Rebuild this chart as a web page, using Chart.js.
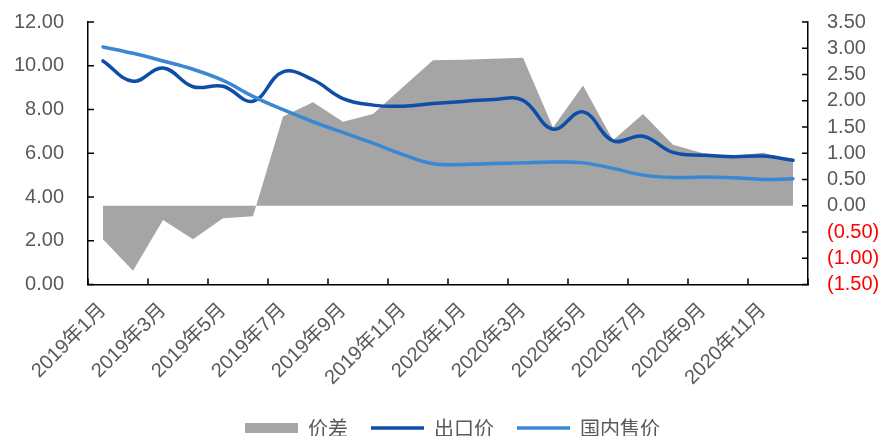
<!DOCTYPE html>
<html>
<head>
<meta charset="utf-8">
<script src="https://cdn.jsdelivr.net/npm/chart.js@4.4.1/dist/chart.umd.min.js"></script>
<style>
html,body{margin:0;padding:0;background:#fff;}
#wrap{width:885px;height:436px;position:relative;}
</style>
</head>
<body>
<div id="wrap"><canvas id="c" width="885" height="436"></canvas></div>
<script>
// ---- data ----
const categories = ['2019年1月','2019年2月','2019年3月','2019年4月','2019年5月','2019年6月',
  '2019年7月','2019年8月','2019年9月','2019年10月','2019年11月','2019年12月',
  '2020年1月','2020年2月','2020年3月','2020年4月','2020年5月','2020年6月',
  '2020年7月','2020年8月','2020年9月','2020年10月','2020年11月','2020年12月'];
const spread = [-0.64, -1.24, -0.27, -0.64, -0.24, -0.20, 1.70, 1.97, 1.60, 1.75, 2.26, 2.77,
  2.78, 2.80, 2.82, 1.49, 2.29, 1.25, 1.75, 1.16, 1.00, 0.95, 1.01, 0.86];
const exportPrice = [10.22, 9.29, 9.90, 9.04, 9.06, 8.38, 9.72, 9.36, 8.50, 8.20, 8.15, 8.27,
  8.37, 8.46, 8.42, 7.10, 7.89, 6.57, 6.78, 6.04, 5.91, 5.84, 5.87, 5.68];
const domesticPrice = [10.86, 10.57, 10.22, 9.84, 9.33, 8.60, 7.99, 7.44, 6.95, 6.46, 5.94, 5.52,
  5.49, 5.53, 5.56, 5.60, 5.56, 5.31, 5.00, 4.89, 4.91, 4.88, 4.80, 4.83];
const seriesNames = ['价差', '出口价', '国内售价'];
const leftAxisRange = [0, 12, 2];
const rightAxisRange = [-1.5, 3.5, 0.5];

const GRAY_TXT = '#595959';
const LATIN = '"Liberation Sans", Arial, "Noto Sans CJK SC", sans-serif';

const inwardTicks = {
  id: 'inwardTicks',
  afterDraw(chart) {
    const ctx = chart.ctx, a = chart.chartArea;
    const L = 6;
    ctx.save();
    ctx.strokeStyle = '#000';
    ctx.lineWidth = 1.5;
    ctx.beginPath();
    const y1 = chart.scales.y;
    y1.ticks.forEach(t => {
      const p = y1.getPixelForValue(t.value);
      ctx.moveTo(a.left, p); ctx.lineTo(a.left + L, p);
    });
    const y2 = chart.scales.y2;
    y2.ticks.forEach(t => {
      const p = y2.getPixelForValue(t.value);
      ctx.moveTo(a.right, p); ctx.lineTo(a.right - L, p);
    });
    const xs = chart.scales.x;
    for (let i = 0; i <= categories.length; i += 2) {
      const p = xs.getPixelForValue(i - 0.5);
      ctx.moveTo(p, a.bottom); ctx.lineTo(p, a.bottom - L);
    }
    ctx.stroke();
    ctx.restore();
  }
};

const legendShift = {
  id: 'legendShift',
  afterLayout(chart) {
    const lg = chart.legend;
    if (lg) { lg.left += 10; lg.right += 10; }
  }
};

new Chart(document.getElementById('c'), {
  type: 'line',
  data: {
    labels: categories,
    datasets: [
      {
        label: seriesNames[0], data: spread, yAxisID: 'y2',
        fill: 'origin', backgroundColor: '#A5A5A5', borderColor: '#A5A5A5',
        borderWidth: 0, pointRadius: 0, tension: 0, pointStyle: 'rect', order: 3
      },
      {
        label: seriesNames[1], data: exportPrice, yAxisID: 'y',
        borderColor: '#0F4EA6', backgroundColor: '#0F4EA6', borderWidth: 3.5,
        pointRadius: 0, tension: 0.4, fill: false, pointStyle: 'line',
        borderCapStyle: 'round', order: 2
      },
      {
        label: seriesNames[2], data: domesticPrice, yAxisID: 'y',
        borderColor: '#3A88D4', backgroundColor: '#3A88D4', borderWidth: 3.5,
        pointRadius: 0, tension: 0.4, fill: false, pointStyle: 'line',
        borderCapStyle: 'round', order: 1
      }
    ]
  },
  options: {
    responsive: false,
    animation: false,
    devicePixelRatio: 1,
    layout: { padding: { top: 22, left: 0, right: 0, bottom: 0 } },
    plugins: {
      tooltip: { enabled: false },
      legend: {
        position: 'bottom',
        maxHeight: 41,
        labels: {
          usePointStyle: true,
          pointStyleWidth: 53,
          boxHeight: 10,
          padding: 23,
          color: GRAY_TXT,
          font: { family: '"Noto Sans CJK SC", sans-serif', size: 20 },
          sort: (a, b) => a.datasetIndex - b.datasetIndex
        }
      }
    },
    scales: {
      x: {
        offset: true,
        grid: { display: false, drawTicks: false, offset: true },
        border: { display: true, color: '#000', width: 1.5 },
        ticks: {
          autoSkip: false, minRotation: 45, maxRotation: 45, padding: 14,
          color: GRAY_TXT, font: { family: LATIN, size: 20 },
          callback: function (v, i) { return i % 2 === 0 ? this.getLabelForValue(v) : ''; }
        },
        afterFit: s => { s.height = 110.5; }
      },
      y: {
        position: 'left',
        min: leftAxisRange[0], max: leftAxisRange[1],
        grid: { display: false, drawTicks: false },
        border: { display: true, color: '#000', width: 1.5 },
        ticks: {
          autoSkip: false,
          stepSize: leftAxisRange[2], padding: 24, color: GRAY_TXT,
          font: { family: LATIN, size: 20 },
          callback: v => Number(v).toFixed(2)
        },
        afterFit: s => { s.width = 88; s.paddingTop = 10; s.paddingBottom = 10; }
      },
      y2: {
        position: 'right',
        min: rightAxisRange[0], max: rightAxisRange[1],
        grid: { display: false, drawTicks: false },
        border: { display: true, color: '#000', width: 1.5 },
        ticks: {
          autoSkip: false,
          stepSize: rightAxisRange[2], padding: 19,
          color: ctx => (ctx.tick && ctx.tick.value < 0 ? '#FF0000' : GRAY_TXT),
          font: { family: LATIN, size: 20 },
          callback: v => (v < 0 ? '(' + Math.abs(v).toFixed(2) + ')' : Number(v).toFixed(2))
        },
        afterFit: s => { s.width = 77; s.paddingTop = 10; s.paddingBottom = 10; }
      }
    }
  },
  plugins: [inwardTicks, legendShift]
});
</script>
</body>
</html>
